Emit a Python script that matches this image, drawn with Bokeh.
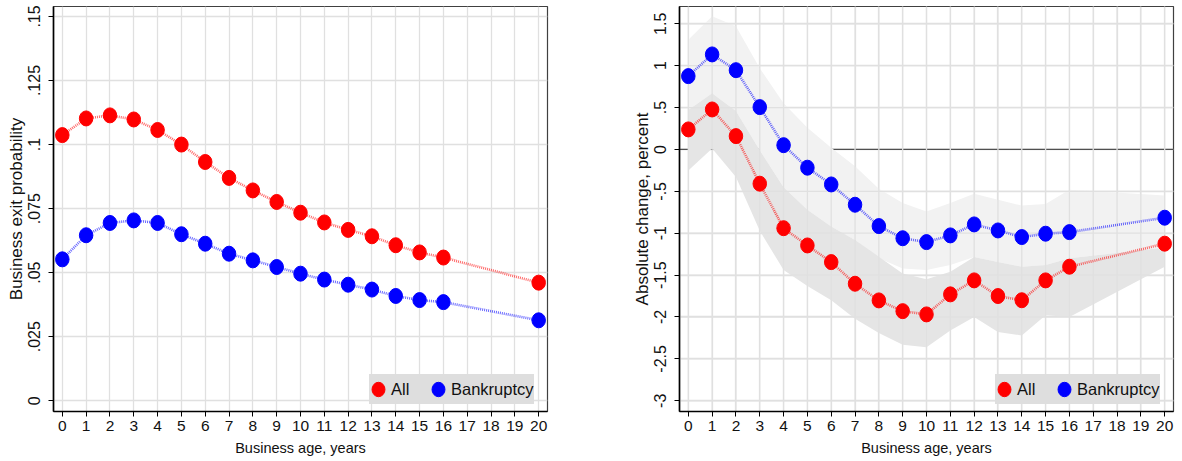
from bokeh.plotting import figure
from bokeh.models import Range1d, FixedTicker, Span, Legend, LegendItem
from bokeh.layouts import row
from bokeh.embed import file_html
from bokeh.resources import INLINE

# Business age (years) at which estimates are reported
ages = [0, 1, 2, 3, 4, 5, 6, 7, 8, 9, 10, 11, 12, 13, 14, 15, 16, 20]
x_ticks = list(range(21))

# Left panel: business exit probability
exit_all = [0.1037, 0.1102, 0.1114, 0.1098, 0.1057, 0.1000, 0.0932, 0.0870, 0.0821,
            0.0776, 0.0734, 0.0696, 0.0667, 0.0642, 0.0607, 0.0579, 0.0559, 0.0461]
exit_bankr = [0.0552, 0.0646, 0.0694, 0.0704, 0.0694, 0.0650, 0.0613, 0.0574, 0.0548,
              0.0522, 0.0496, 0.0473, 0.0453, 0.0434, 0.0409, 0.0393, 0.0385, 0.0314]
left_ticks = [0, 0.025, 0.05, 0.075, 0.1, 0.125, 0.15]
left_tick_labels = ["0", ".025", ".05", ".075", ".1", ".125", ".15"]

# Right panel: absolute change in percent, with confidence bands
chg_all = [0.239, 0.477, 0.159, -0.409, -0.94, -1.146, -1.345, -1.603, -1.802,
           -1.93, -1.969, -1.73, -1.563, -1.75, -1.80, -1.563, -1.40, -1.125]
chg_all_lo = [-0.25, 0.01, -0.33, -0.97, -1.44, -1.63, -1.80, -2.02, -2.19,
              -2.33, -2.36, -2.16, -2.00, -2.18, -2.22, -1.98, -2.00, -1.40]
chg_all_hi = [0.47, 0.67, 0.46, -0.01, -0.45, -0.72, -0.92, -1.08, -1.28,
              -1.48, -1.55, -1.46, -1.285, -1.345, -1.40, -1.38, -1.30, -1.17]
chg_bankr = [0.875, 1.134, 0.946, 0.505, 0.051, -0.218, -0.418, -0.660, -0.915,
             -1.06, -1.106, -1.026, -0.895, -0.967, -1.046, -1.006, -0.987, -0.815]
chg_bankr_lo = [0.47, 0.67, 0.46, -0.01, -0.45, -0.72, -0.92, -1.08, -1.30,
                -1.42, -1.44, -1.38, -1.285, -1.345, -1.40, -1.38, -1.30, -1.17]
chg_bankr_hi = [1.31, 1.59, 1.47, 0.97, 0.55, 0.26, 0.02, -0.20, -0.47,
                -0.64, -0.74, -0.64, -0.53, -0.60, -0.67, -0.65, -0.48, -0.55]
right_ticks = [-3, -2.5, -2, -1.5, -1, -0.5, 0, 0.5, 1, 1.5]
right_tick_labels = ["-3", "-2.5", "-2", "-1.5", "-1", "-.5", "0", ".5", "1", "1.5"]

RED = "#ff0000"
BLUE = "#0000ff"
FONT = "Liberation Sans"
GRID = "#e0e0e0"
X_RANGE = (-0.37, 20.37)


def make_panel(width, left_border, right_border, y_range, yticks, ylabels, ytitle):
    p = figure(width=width, height=461, output_backend="svg", toolbar_location=None,
               x_range=Range1d(*X_RANGE), y_range=Range1d(*y_range),
               min_border_left=left_border, min_border_right=right_border,
               min_border_top=6, min_border_bottom=50)
    p.background_fill_color = "white"
    p.border_fill_color = "white"
    p.outline_line_color = "#404040"
    p.outline_line_width = 1.2

    p.xaxis.ticker = FixedTicker(ticks=x_ticks)
    p.yaxis.ticker = FixedTicker(ticks=yticks)
    p.yaxis.major_label_overrides = {t: l for t, l in zip(yticks, ylabels)}
    p.yaxis.major_label_orientation = "vertical"

    for ax in (p.xaxis[0], p.yaxis[0]):
        ax.axis_line_color = "black"
        ax.axis_line_width = 1.6
        ax.major_tick_line_color = "black"
        ax.major_tick_line_width = 1
        ax.major_tick_out = 5
        ax.major_tick_in = 0
        ax.minor_tick_line_color = None
        ax.major_label_text_color = "#111111"
        ax.axis_label_text_color = "#111111"
        ax.axis_label_text_font_style = "normal"
        ax.major_label_text_font = FONT
        ax.axis_label_text_font = FONT

    p.xaxis.major_label_text_font_size = "15.5px"
    p.xaxis.major_label_standoff = 4
    p.xaxis.axis_label = "Business age, years"
    p.xaxis.axis_label_text_font_size = "14.5px"
    p.xaxis.axis_label_standoff = 6

    p.yaxis.major_label_text_font_size = "16px"
    p.yaxis.major_label_standoff = 8
    p.yaxis.axis_label = ytitle
    p.yaxis.axis_label_text_font_size = "17px"
    p.yaxis.axis_label_standoff = 0

    p.grid.grid_line_color = GRID
    p.grid.grid_line_width = 1.3
    return p


def add_series(p, ys, color):
    p.line(ages, ys, line_color=color, line_alpha=0.6, line_width=2.6, line_dash="1 1")
    return p.ellipse(ages, ys, width=13.5, height=15, width_units="screen",
                     height_units="screen", fill_color=color, line_color=color)


def add_legend(p, r_all, r_bankr):
    legend = Legend(items=[LegendItem(label="All", renderers=[r_all]),
                           LegendItem(label="Bankruptcy", renderers=[r_bankr])],
                    location=(316, 7), orientation="horizontal",
                    background_fill_color="#dedede", background_fill_alpha=1,
                    border_line_color=None, label_text_font=FONT,
                    label_text_font_size="16.5px", label_text_color="#111111",
                    glyph_width=18, glyph_height=30, label_standoff=4,
                    label_height=30, spacing=18, padding=4, margin=0)
    p.add_layout(legend)


# Left panel
p1 = make_panel(590, 53, 43, (-0.0042, 0.1539), left_ticks, left_tick_labels,
                "Business exit probability")
r1a = add_series(p1, exit_all, RED)
r1b = add_series(p1, exit_bankr, BLUE)
add_legend(p1, r1a, r1b)

# Right panel: zero reference line sits beneath the shaded bands
p2 = make_panel(592, 89, 9, (-3.128, 1.706), right_ticks, right_tick_labels,
                "Absolute change, percent")
p2.add_layout(Span(location=0, dimension="width", line_color="#505050",
                   line_width=1.3, level="underlay"))
p2.varea(x=ages, y1=chg_bankr_lo, y2=chg_bankr_hi, fill_color="#f2f2f2")
p2.varea(x=ages, y1=chg_all_lo, y2=chg_all_hi, fill_color="#e5e5e5")

# grid lines repeated over the shaded bands (the zero line stays hidden beneath them)
y_lo, y_hi = p2.y_range.start, p2.y_range.end
p2.multi_line(xs=[[t, t] for t in x_ticks], ys=[[y_lo, y_hi] for _ in x_ticks],
              line_color=GRID, line_width=1.3)
h_ticks = [t for t in right_ticks if t != 0]
p2.multi_line(xs=[list(X_RANGE) for _ in h_ticks], ys=[[t, t] for t in h_ticks],
              line_color=GRID, line_width=1.3)

r2a = add_series(p2, chg_all, RED)
r2b = add_series(p2, chg_bankr, BLUE)
add_legend(p2, r2a, r2b)

layout = row(p1, p2)
open("out.html", "w").write(file_html(layout, INLINE))
